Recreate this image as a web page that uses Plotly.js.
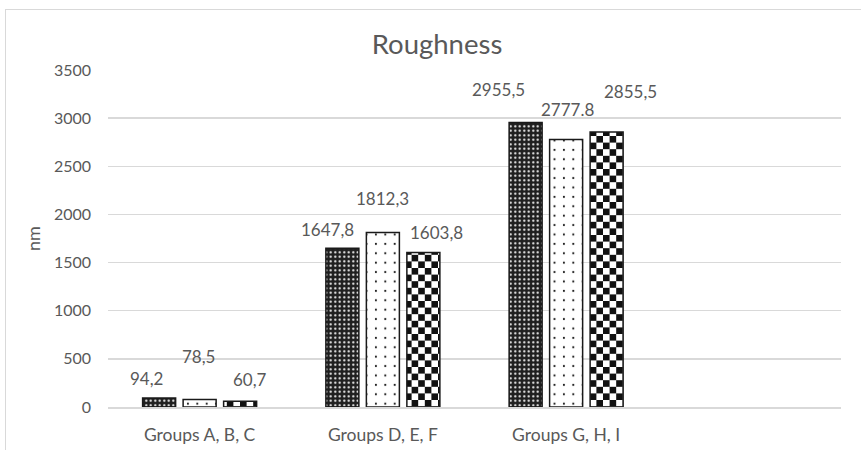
<!DOCTYPE html>
<html>
<head>
<meta charset="utf-8">
<script src="https://cdn.plot.ly/plotly-3.0.1.min.js"></script>
<style>
  html, body { margin: 0; padding: 0; background: #ffffff; }
  #wrap { position: relative; width: 861px; height: 450px; overflow: hidden; }
  #frame { position: absolute; left: 5px; top: 9px; width: 900px; height: 500px;
           border: 1px solid #d9d9d9; box-sizing: border-box; pointer-events: none; }
  #chart { position: absolute; left: 0; top: 0; width: 861px; height: 450px; }
</style>
</head>
<body>
<div id="wrap">
  <div id="frame"></div>
  <div id="chart"></div>
</div>
<script>
// Roughness per group, three samples per group
const categories = ['Groups A, B, C', 'Groups D, E, F', 'Groups G, H, I'];
const seriesA = [94.2, 1647.8, 2955.5];
const seriesB = [78.5, 1812.3, 2777.8];
const seriesC = [60.7, 1603.8, 2855.5];
const labelsA = ['94,2', '1647,8', '2955,5'];
const labelsB = ['78,5', '1812,3', '2777.8'];
const labelsC = ['60,7', '1603,8', '2855,5'];
const yTicks = [0, 500, 1000, 1500, 2000, 2500, 3000, 3500];

// Layout geometry
const W = 861, H = 450;
const M = { l: 108, r: 20, t: 70, b: 43 };
const BARGAP = 0.337, GROUPGAP = 0.185;
const SLOTS = 4;                       // one empty slot on the right
const plotW = W - M.l - M.r;
const barSlot = (plotW / SLOTS) * (1 - BARGAP) / 3;

// Label nudges [dx, dy above the bar top] per series and group
const nudgesA = [[-13, 19], [-15, 19], [-27, 33]];
const nudgesB = [[-1, 43], [0, 34], [1, 30]];
const nudgesC = [[10, 22], [13, 20], [24, 41]];

const FONT = 'Lato, "Open Sans", "Noto Sans", sans-serif';
const GREY = '#595959';
const OUTLINE = { color: '#1a1a1a', width: 1.5 };

const traces = [
  {
    type: 'bar', name: 'A', x: categories, y: seriesA,
    marker: {
      color: '#1f1f1f', line: OUTLINE,
      pattern: { shape: '.', bgcolor: '#1f1f1f', fgcolor: '#ffffff', size: 4.5, solidity: 0.18, fillmode: 'replace' }
    },
    hoverinfo: 'skip'
  },
  {
    type: 'bar', name: 'B', x: categories, y: seriesB,
    marker: {
      color: '#ffffff', line: OUTLINE,
      pattern: { shape: '.', bgcolor: '#ffffff', fgcolor: '#1a1a1a', size: 9.4, solidity: 0.04, fillmode: 'replace' }
    },
    hoverinfo: 'skip'
  },
  {
    type: 'bar', name: 'C', x: categories, y: seriesC,
    marker: {
      color: '#ffffff', line: OUTLINE,
      pattern: { shape: '+', bgcolor: '#ffffff', fgcolor: '#1a1a1a', size: 13, solidity: 0.5, fillmode: 'replace' }
    },
    hoverinfo: 'skip'
  }
];

function labelAnnotations(values, labels, nudges, seriesIdx) {
  const base = (seriesIdx - 1) * barSlot;
  return values.map((v, i) => ({
    x: categories[i], y: v, xref: 'x', yref: 'y',
    text: labels[i], showarrow: false,
    xanchor: 'center', yanchor: 'middle',
    xshift: base + nudges[i][0], yshift: nudges[i][1],
    font: { family: FONT, size: 17, color: GREY }
  }));
}

const annotations = [].concat(
  labelAnnotations(seriesA, labelsA, nudgesA, 0),
  labelAnnotations(seriesB, labelsB, nudgesB, 1),
  labelAnnotations(seriesC, labelsC, nudgesC, 2)
);

const layout = {
  width: W, height: H,
  margin: M,
  paper_bgcolor: 'rgba(0,0,0,0)',
  plot_bgcolor: 'rgba(0,0,0,0)',
  showlegend: false,
  barmode: 'group',
  bargap: BARGAP,
  bargroupgap: GROUPGAP,
  font: { family: FONT, color: GREY },
  title: {
    text: 'Roughness',
    font: { family: FONT, size: 27.5, color: GREY },
    x: 437 / W, xanchor: 'center',
    y: 1 - 44 / H, yanchor: 'middle', yref: 'container'
  },
  xaxis: {
    type: 'category',
    categoryorder: 'array', categoryarray: categories,
    range: [-0.5, SLOTS - 0.5],
    showgrid: false, zeroline: false,
    showline: true, linecolor: '#d9d9d9', linewidth: 1.5,
    ticks: '', ticklabelstandoff: 11,
    tickfont: { family: FONT, size: 17.5, color: GREY },
    fixedrange: true
  },
  yaxis: {
    range: [0, 3500],
    tickvals: yTicks, ticktext: yTicks.map(String),
    showgrid: true, gridcolor: '#d9d9d9', gridwidth: 1.3,
    zeroline: false, showline: false, ticks: '',
    ticklabelstandoff: 16,
    tickfont: { family: FONT, size: 16, color: GREY },
    title: { text: 'nm', standoff: 8, font: { family: FONT, size: 18, color: GREY } },
    fixedrange: true
  },
  annotations: annotations
};

// Replace the crosshatch fill of the third series with a checkerboard tile
function checkerboard(gd) {
  const NS = 'http://www.w3.org/2000/svg';
  const CELL = 6.6;
  const traceGroups = gd.querySelectorAll('.barlayer .trace');
  if (traceGroups.length < 3) return;
  const ids = new Set();
  traceGroups[2].querySelectorAll('path').forEach(p => {
    const f = p.style.fill || p.getAttribute('fill') || '';
    const m = f.match(/#([^"')]+)/);
    if (m) ids.add(m[1]);
  });
  ids.forEach(id => {
    const pat = gd.querySelector('pattern[id="' + id + '"]') || document.getElementById(id);
    if (!pat) return;
    while (pat.firstChild) pat.removeChild(pat.firstChild);
    pat.setAttribute('width', 2 * CELL);
    pat.setAttribute('height', 2 * CELL);
    pat.removeAttribute('patternTransform');
    const cells = [[0, 0, '#ffffff', 2 * CELL], [0, 0, '#111111', CELL], [CELL, CELL, '#111111', CELL]];
    cells.forEach(([x, y, c, s]) => {
      const r = document.createElementNS(NS, 'rect');
      r.setAttribute('x', x); r.setAttribute('y', y);
      r.setAttribute('width', s); r.setAttribute('height', s);
      r.setAttribute('fill', c);
      pat.appendChild(r);
    });
  });
}

Plotly.newPlot('chart', traces, layout, { displayModeBar: false, staticPlot: true })
  .then(gd => checkerboard(gd));
</script>
</body>
</html>
